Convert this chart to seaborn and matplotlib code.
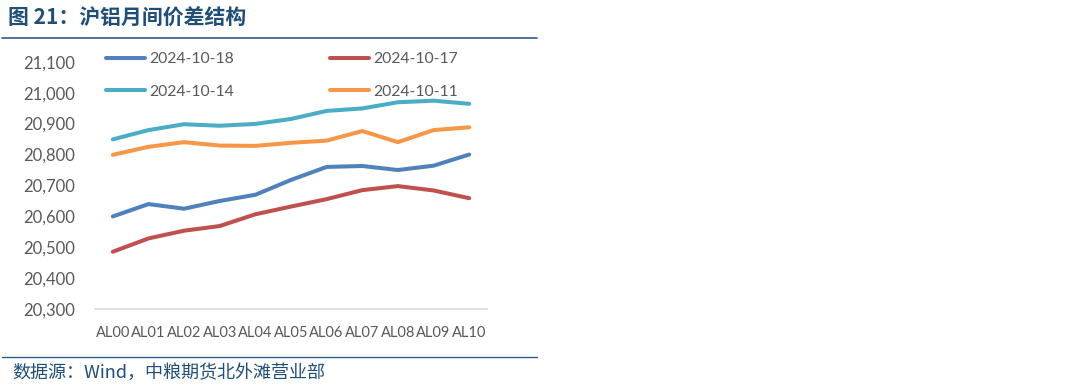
import pandas as pd
import matplotlib.pyplot as plt
import seaborn as sns

sns.set_style("white")
plt.rcParams['font.family'] = ['Lato', 'Noto Sans CJK SC', 'DejaVu Sans']

# 数据
contracts = ["AL00", "AL01", "AL02", "AL03", "AL04", "AL05",
             "AL06", "AL07", "AL08", "AL09", "AL10"]
s_1018 = [20600, 20640, 20625, 20650, 20670, 20718, 20760, 20763, 20750, 20764, 20800]
s_1017 = [20486, 20529, 20554, 20569, 20607, 20632, 20656, 20685, 20698, 20684, 20659]
s_1014 = [20849, 20879, 20898, 20893, 20899, 20915, 20941, 20949, 20969, 20974, 20964]
s_1011 = [20799, 20825, 20840, 20829, 20828, 20838, 20845, 20876, 20840, 20879, 20888]
dates = ["2024-10-18", "2024-10-17", "2024-10-14", "2024-10-11"]
colors = ["#4F81BD", "#C0504D", "#4BACC6", "#F79646"]

df = pd.DataFrame({
    "合约": contracts * 4,
    "价格": s_1018 + s_1017 + s_1014 + s_1011,
    "日期": sum([[d] * len(contracts) for d in dates], []),
})

fig = plt.figure(figsize=(10.8, 3.89), dpi=100)
ax = fig.add_axes([95 / 1080, 1 - 309.3 / 389, 392 / 1080, 247.6 / 389])

sns.lineplot(data=df, x="合约", y="价格", hue="日期", hue_order=dates,
             palette=dict(zip(dates, colors)), linewidth=2.9, ax=ax, sort=False)

ax.set_xlim(-0.5, 10.5)
ax.set_ylim(20300, 21100)
ax.set_yticks(range(20300, 21101, 100))
ax.set_yticklabels([f"{v:,}" for v in range(20300, 21101, 100)])
ax.set_xlabel("")
ax.set_ylabel("")
ax.tick_params(axis="both", length=0, colors="#595959")
ax.tick_params(axis="y", pad=14, labelsize=12)
ax.tick_params(axis="x", pad=12, labelsize=10.5)
for s in ["top", "right", "left"]:
    ax.spines[s].set_visible(False)
ax.spines["bottom"].set_color("#D9D9D9")
ax.spines["bottom"].set_linewidth(1.2)

# 图例 两行两列
handles, labels = ax.get_legend_handles_labels()
order = [0, 2, 1, 3]
ax.legend([handles[i] for i in order], [labels[i] for i in order], ncol=2,
          loc="upper left", bbox_to_anchor=(92 / 1080, 1 - 38 / 389),
          bbox_transform=fig.transFigure, frameon=False, fontsize=11.3,
          handlelength=2.5, handletextpad=0.25, columnspacing=6.1,
          labelspacing=1.2, labelcolor="#595959")

# 标题和来源
fig.text(8 / 1080, 1 - 18 / 389, "图 21：沪铝月间价差结构", fontsize=15, fontweight="bold",
         color="#1F4E79", va="center", ha="left", family=['Noto Sans CJK SC'])
fig.add_artist(plt.Line2D([2 / 1080, 537 / 1080], [1 - 38 / 389] * 2, color="#2E5C8A", lw=1.2))
fig.add_artist(plt.Line2D([2 / 1080, 537 / 1080], [1 - 357 / 389] * 2, color="#2E5C8A", lw=1.0))
fig.text(12 / 1080, 1 - 373 / 389, "数据源：Wind，中粮期货北外滩营业部", fontsize=13, style="italic",
         color="#1F4E79", va="center", ha="left", family=['Noto Sans CJK SC', 'DejaVu Sans'])

fig.savefig("out.png", dpi=100, facecolor="white")
